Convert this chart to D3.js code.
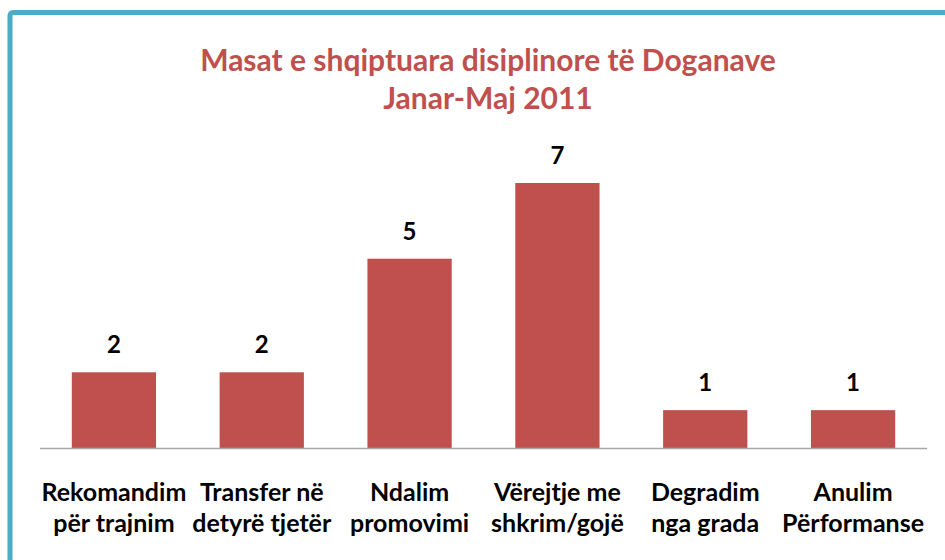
<!DOCTYPE html>
<html>
<head>
<meta charset="utf-8">
<script src="https://cdn.jsdelivr.net/npm/d3@7"></script>
<style>
  body { margin: 0; background: #fff; }
  svg { display: block; font-family: Lato, "Open Sans", sans-serif; }
</style>
</head>
<body>
<svg width="945" height="560"></svg>
<script>
const titleLines = ["Masat e shqiptuara disiplinore të Doganave", "Janar-Maj 2011"];
const categories = [
  ["Rekomandim", "për trajnim"],
  ["Transfer në", "detyrë tjetër"],
  ["Ndalim", "promovimi"],
  ["Vërejtje me", "shkrim/gojë"],
  ["Degradim", "nga grada"],
  ["Anulim", "Përformanse"]
];
const values = [2, 2, 5, 7, 1, 1];

const svg = d3.select("svg");
const width = 945;
const margin = ({top: 183, right: 18, bottom: 112, left: 40});
const baseline = 448;
const red = "#c0504d";

// frame, only top and left edges fall inside the picture
svg.append("rect")
    .attr("x", 10)
    .attr("y", 12.5)
    .attr("width", 1000)
    .attr("height", 700)
    .attr("rx", 3)
    .attr("fill", "none")
    .attr("stroke", "#4bacc6")
    .attr("stroke-width", 5);

const x = d3.scaleBand()
    .domain(d3.range(categories.length))
    .range([margin.left, width - margin.right])
    .paddingInner(0.43)
    .paddingOuter(0.215);

const y = d3.scaleLinear()
    .domain([0, 7])
    .range([baseline, margin.top]);

svg.append("g")
    .attr("fill", red)
    .attr("font-weight", "bold")
    .attr("font-size", 30)
    .attr("text-anchor", "middle")
  .selectAll("text")
  .data(titleLines)
  .join("text")
    .attr("x", 488)
    .attr("y", (d, i) => 71 + i * 38)
    .text(d => d);

svg.append("g")
  .selectAll("rect")
  .data(values)
  .join("rect")
    .attr("x", (d, i) => x(i))
    .attr("y", d => y(d))
    .attr("width", x.bandwidth())
    .attr("height", d => y(0) - y(d))
    .attr("fill", red);

svg.append("g")
    .attr("font-weight", "bold")
    .attr("font-size", 24)
    .attr("text-anchor", "middle")
  .selectAll("text")
  .data(values)
  .join("text")
    .attr("x", (d, i) => x(i) + x.bandwidth() / 2)
    .attr("y", d => y(d) - 19)
    .text(d => d);

const xAxis = svg.append("g")
    .attr("transform", `translate(0,${baseline})`)
    .call(d3.axisBottom(x).tickSize(0).tickFormat(() => ""));
xAxis.select(".domain")
    .attr("d", `M${margin.left},0.5H${width - margin.right}`)
    .attr("stroke", "#a6a6a6")
    .attr("stroke-width", 1.5);

const labels = svg.append("g")
    .attr("font-weight", "bold")
    .attr("font-size", 25)
    .attr("text-anchor", "middle")
  .selectAll("text")
  .data(categories)
  .join("text")
    .attr("transform", (d, i) => `translate(${x(i) + x.bandwidth() / 2},501)`);

labels.selectAll("tspan")
  .data(d => d)
  .join("tspan")
    .attr("x", 0)
    .attr("y", (d, i) => i * 31)
    .text(d => d);
</script>
</body>
</html>
